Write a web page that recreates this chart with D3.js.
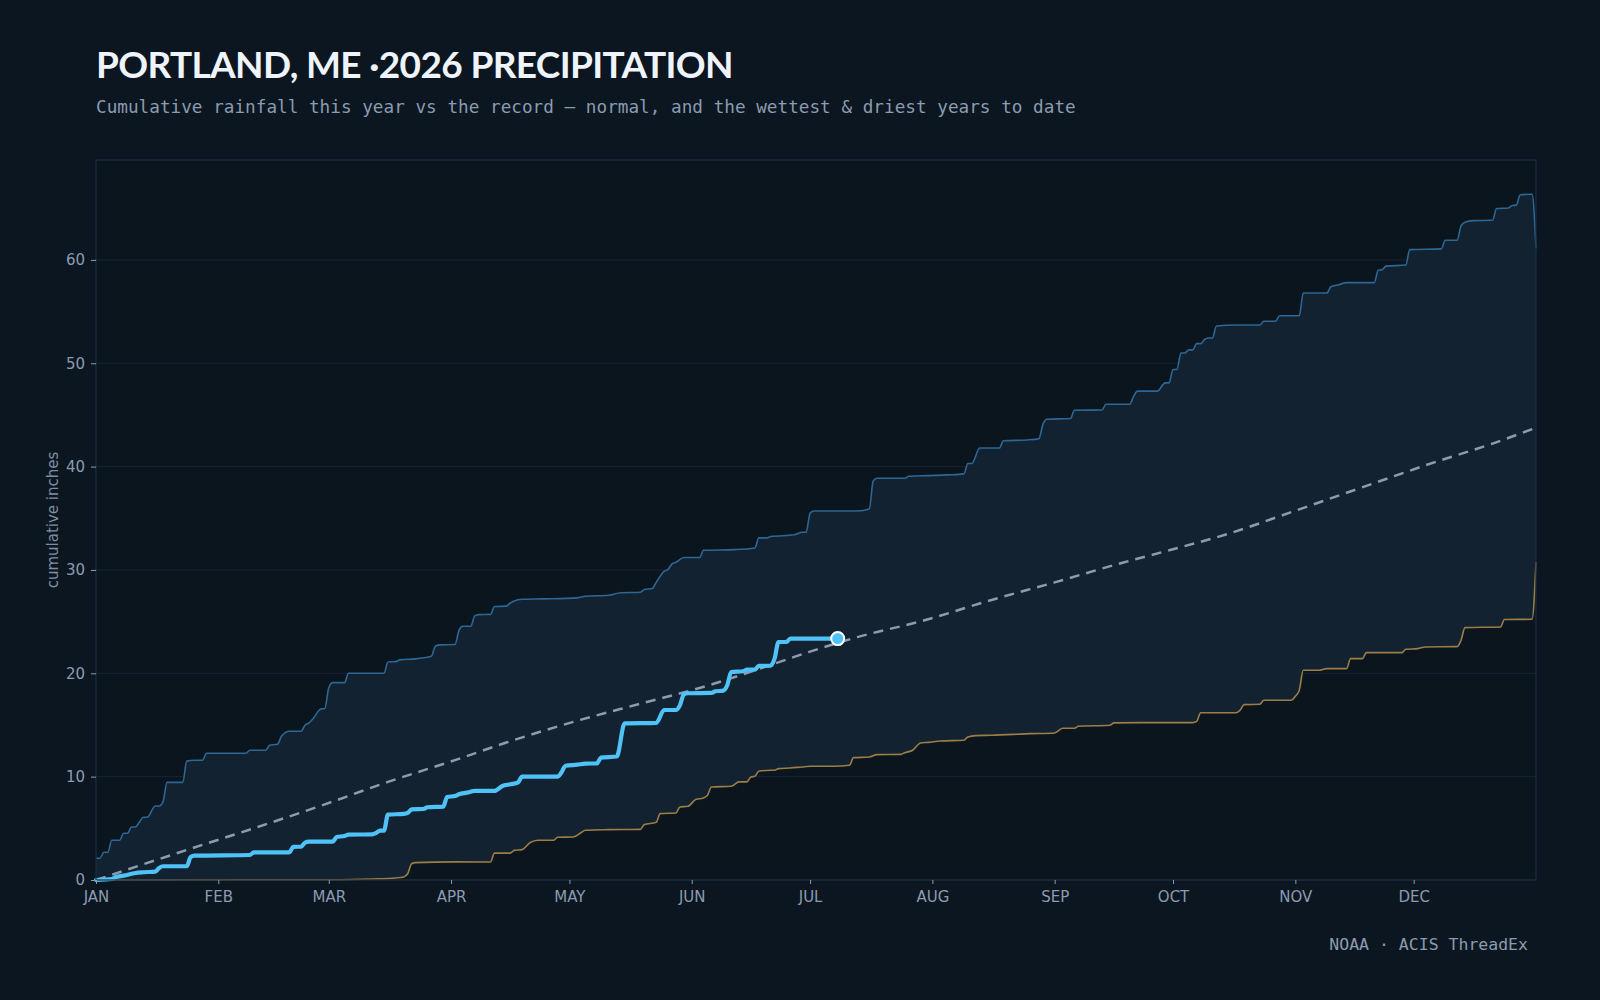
<!DOCTYPE html>
<html>
<head>
<meta charset="utf-8">
<script src="https://cdn.jsdelivr.net/npm/d3@7"></script>
<style>
  body { margin: 0; background: #0c1620; }
  svg { display: block; }
</style>
</head>
<body>
<svg id="chart" width="1600" height="1000"></svg>
<script>
// day-of-year index (0 = Jan 1) for month ticks
const monthStarts = [0, 31, 59, 90, 120, 151, 181, 212, 243, 273, 304, 334];
const monthLabels = ["JAN", "FEB", "MAR", "APR", "MAY", "JUN", "JUL", "AUG", "SEP", "OCT", "NOV", "DEC"];
const yTicks = [0, 10, 20, 30, 40, 50, 60];

// [day, cumulative inches]
const wettest = [
  [0,2.1],[1,2.1],[2,2.68],[3,2.68],[4,3.84],[6,3.84],[7,4.52],[8,4.52],[9,5.13],[10,5.13],[11,5.6],[12,6.07],
  [13,6.07],[15,7.16],[16,7.16],[17,7.58],[18,9.45],[22,9.45],[23,11.5],[25,11.58],[27,11.58],[28,12.26],
  [38,12.26],[39,12.55],[43,12.55],[44,13.04],[46,13.13],[47,13.9],[49,14.39],[52,14.39],[53,15.0],[54,15.2],
  [55,15.6],[57,16.55],[58,16.6],[59,18.6],[60,19.1],[63,19.1],[64,20.0],[73,20.0],[74,21.1],[76,21.13],
  [77,21.3],[81,21.4],[83,21.5],[85,21.65],[86,22.6],[87,22.75],[91,22.78],[92,24.16],[93,24.55],[95,24.55],
  [96,25.55],[97,25.68],[100,25.7],[101,26.46],[104,26.5],[105,26.8],[106,27.0],[108,27.16],[113,27.2],
  [122,27.3],[124,27.45],[130,27.55],[133,27.8],[138,27.85],[139,28.1],[141,28.2],[142,28.8],[144,29.87],
  [145,30.06],[146,30.58],[147,30.74],[149,31.2],[153,31.2],[154,31.9],[162,31.97],[167,32.13],[168,33.1],
  [170,33.1],[171,33.23],[177,33.4],[179,33.65],[180,33.65],[181,35.5],[182,35.7],[193,35.7],[196,35.9],
  [197,38.6],[198,38.87],[205,38.87],[206,39.06],[211,39.13],[216,39.2],[220,39.3],[221,40.3],[222,40.3],
  [224,41.8],[229,41.8],[230,42.5],[236,42.58],[239,42.7],[240,44.06],[241,44.58],[247,44.65],[248,45.45],
  [255,45.48],[256,46.03],[262,46.03],[263,46.8],[264,47.3],[269,47.3],[271,48.1],[272,48.1],[273,49.4],
  [274,49.4],[275,51.0],[276,51.0],[277,51.3],[278,51.3],[279,51.9],[280,51.9],[281,52.3],[282,52.45],
  [283,52.45],[284,53.6],[289,53.7],[295,53.7],[296,54.07],[299,54.07],[300,54.6],[305,54.6],[306,56.8],
  [312,56.8],[313,57.4],[315,57.6],[317,57.8],[324,57.8],[325,59.0],[326,59.06],[327,59.4],[332,59.5],
  [333,61.0],[341,61.07],[342,61.9],[345,61.9],[346,63.3],[347,63.65],[349,63.8],[354,63.84],[355,64.97],
  [358,65.03],[359,65.26],[360,65.3],[361,66.3],[364,66.35],[365,61.1]
];

const driest = [
  [0,0],[59,0.03],[70,0.1],[76,0.2],[78,0.3],[79,0.6],[80,1.58],[81,1.68],[91,1.75],[100,1.74],[101,2.6],
  [105,2.6],[106,2.87],[108,2.94],[110,3.6],[112,3.84],[116,3.84],[117,4.13],[121,4.16],[123,4.6],[124,4.81],
  [130,4.87],[138,4.9],[139,5.36],[142,5.58],[143,6.42],[147,6.49],[148,7.07],[150,7.13],[152,7.78],
  [154,7.94],[155,8.2],[156,9.0],[161,9.07],[163,9.49],[165,9.49],[166,9.97],[167,10.04],[168,10.52],
  [171,10.62],[172,10.62],[173,10.78],[176,10.84],[179,10.94],[181,11.0],[187,11.0],[191,11.1],[192,11.84],
  [196,11.9],[198,12.13],[204,12.16],[205,12.32],[207,12.55],[209,13.26],[211,13.32],[214,13.45],[220,13.52],
  [221,13.84],[223,13.97],[227,14.0],[237,14.16],[243,14.23],[245,14.68],[248,14.68],[249,14.87],[257,14.97],
  [258,15.2],[265,15.23],[278,15.23],[279,15.35],[280,16.19],[289,16.19],[290,16.42],[291,16.97],[295,17.0],
  [296,17.39],[303,17.39],[304,17.78],[305,18.36],[306,20.29],[310,20.29],[312,20.45],[317,20.45],[318,21.42],
  [321,21.42],[322,22.0],[331,22.0],[332,22.32],[335,22.39],[337,22.55],[345,22.58],[346,23.2],[347,24.42],
  [356,24.48],[357,25.2],[364,25.23],[365,30.77]
];

const normal = [
  [0,0],[24,3.03],[41,5.13],[58,7.32],[74,9.49],[91,11.6],[104,13.3],[121,15.3],[138,17.06],[155,18.8],
  [172,20.94],[181,22.1],[193,23.5],[210,25.13],[227,27.1],[243,28.8],[260,30.68],[272,31.9],[287,33.5],
  [303,35.6],[320,37.87],[329,39.07],[337,40.13],[354,42.23],[365,43.77]
];

const thisYear = [
  [0,0],[4,0.1],[5,0.29],[7,0.42],[10,0.68],[12,0.75],[15,0.81],[16,1.16],[17,1.33],[23,1.33],[24,2.23],
  [25,2.36],[39,2.42],[40,2.68],[49,2.68],[50,3.2],[52,3.23],[53,3.62],[54,3.71],[60,3.71],[61,4.16],
  [63,4.26],[64,4.39],[70,4.42],[71,4.55],[72,4.78],[73,4.78],[74,6.33],[78,6.39],[79,6.49],[80,6.84],
  [83,6.87],[84,7.04],[88,7.1],[89,8.03],[91,8.13],[92,8.29],[94,8.45],[96,8.62],[101,8.62],[103,9.1],
  [105,9.26],[107,9.45],[108,10.0],[117,10.0],[118,10.42],[119,11.06],[122,11.16],[124,11.26],[127,11.29],
  [128,11.84],[132,11.95],[134,15.15],[142,15.2],[144,16.45],[147,16.45],[148,16.9],[149,17.97],[150,18.07],
  [156,18.1],[157,18.26],[159,18.32],[160,18.84],[161,20.13],[164,20.2],[165,20.35],[167,20.35],[168,20.71],
  [171,20.74],[172,21.42],[173,23.03],[175,23.03],[176,23.36],[188,23.36]
];

const W = 1600, H = 1000;
const margin = { top: 160, right: 64, bottom: 120, left: 96 },
  width = W - margin.left - margin.right,
  height = H - margin.top - margin.bottom;

const svg = d3.select("#chart");
svg.append("rect").attr("width", W).attr("height", H).attr("fill", "#0c1620");

// title block
svg.append("text")
  .attr("x", 96).attr("y", 78)
  .attr("fill", "#eef4fa")
  .style("font-family", "Lato, 'Noto Sans', sans-serif")
  .style("font-weight", 700)
  .style("font-size", "37px")
  .style("letter-spacing", "-0.65px")
  .text("PORTLAND, ME \u00b72026 PRECIPITATION");

svg.append("text")
  .attr("x", 96).attr("y", 113)
  .attr("fill", "#8b9bb0")
  .style("font-family", "'DejaVu Sans Mono', monospace")
  .style("font-size", "17.7px")
  .text("Cumulative rainfall this year vs the record \u2014 normal, and the wettest & driest years to date");

svg.append("text")
  .attr("x", 1528).attr("y", 950)
  .attr("text-anchor", "end")
  .attr("fill", "#8b9bb0")
  .style("font-family", "'DejaVu Sans Mono', monospace")
  .style("font-size", "16.5px")
  .text("NOAA \u00b7 ACIS ThreadEx");

const g = svg.append("g").attr("transform", `translate(${margin.left},${margin.top})`);

const x = d3.scaleLinear().domain([0, 365]).range([0, width]);
const y = d3.scaleLinear().domain([0, d3.max(wettest, d => d[1]) * 1.05]).range([height, 0]);

g.append("rect").attr("width", width).attr("height", height).attr("fill", "#0b151e");

// gridlines sit under the band
g.append("g")
  .selectAll("line")
  .data(yTicks)
  .enter()
  .append("line")
  .attr("x1", 0).attr("x2", width)
  .attr("y1", d => y(d)).attr("y2", d => y(d))
  .attr("stroke", "#142536")
  .attr("stroke-width", 1);

// band between driest and wettest: area under wettest clipped to area above driest
const aboveDry = d3.area()
  .x(d => x(d[0])).y0(0).y1(d => y(d[1]))
  .curve(d3.curveMonotoneX);
svg.append("defs").append("clipPath").attr("id", "dryclip")
  .append("path").attr("d", aboveDry(driest));

const underWet = d3.area()
  .x(d => x(d[0])).y0(height).y1(d => y(d[1]))
  .curve(d3.curveMonotoneX);
g.append("path")
  .attr("d", underWet(wettest))
  .attr("clip-path", "url(#dryclip)")
  .attr("fill", "#122231");

const line = d3.line()
  .x(d => x(d[0])).y(d => y(d[1]))
  .curve(d3.curveMonotoneX);

g.append("path").attr("d", line(wettest))
  .attr("fill", "none").attr("stroke", "#2d6796").attr("stroke-width", 1.6);
g.append("path").attr("d", line(driest))
  .attr("fill", "none").attr("stroke", "#9c7d47").attr("stroke-width", 1.6);
g.append("path").attr("d", line(normal))
  .attr("fill", "none").attr("stroke", "#8d9cac").attr("stroke-width", 2.5)
  .attr("stroke-dasharray", "10,7");
g.append("path").attr("d", line(thisYear))
  .attr("fill", "none").attr("stroke", "#4fc3f7").attr("stroke-width", 4.2)
  .attr("stroke-linejoin", "round").attr("stroke-linecap", "round");

const last = thisYear[thisYear.length - 1];
g.append("circle")
  .attr("cx", x(last[0])).attr("cy", y(last[1])).attr("r", 6.5)
  .attr("fill", "#4fc3f7").attr("stroke", "#ffffff").attr("stroke-width", 2);

// frame
g.append("rect").attr("width", width).attr("height", height)
  .attr("fill", "none").attr("stroke", "#1a2f43").attr("stroke-width", 1.2);

// axes
const xAxis = g.append("g")
  .attr("transform", `translate(0,${height})`)
  .call(d3.axisBottom(x).tickValues(monthStarts)
    .tickFormat((d, i) => monthLabels[i]).tickSize(4).tickPadding(7));
const yAxis = g.append("g")
  .call(d3.axisLeft(y).tickValues(yTicks).tickSize(5).tickPadding(6));

[xAxis, yAxis].forEach(a => {
  a.select(".domain").remove();
  a.selectAll(".tick line").attr("stroke", "#8b9bb0");
  a.selectAll(".tick text")
    .attr("fill", "#8b9bb0")
    .style("font-family", "'DejaVu Sans', sans-serif")
    .style("font-size", "15px");
});

svg.append("text")
  .attr("transform", `translate(57.5,${margin.top + height / 2}) rotate(-90)`)
  .attr("text-anchor", "middle")
  .attr("fill", "#7d8ea3")
  .style("font-family", "'DejaVu Sans', sans-serif")
  .style("font-size", "15px")
  .text("cumulative inches");
</script>
</body>
</html>
